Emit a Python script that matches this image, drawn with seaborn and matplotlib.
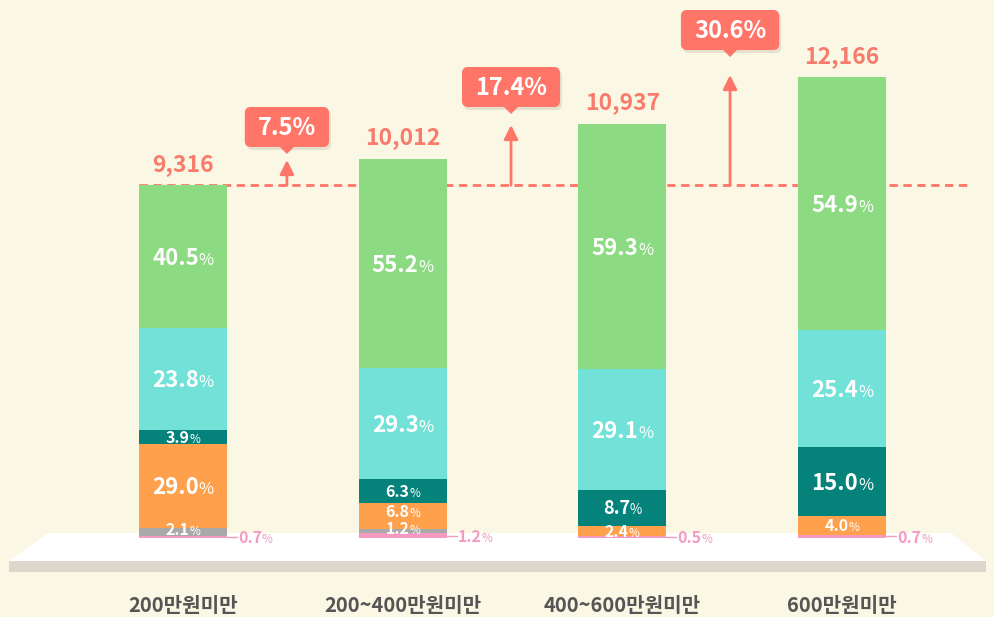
import matplotlib
matplotlib.use("Agg")
import matplotlib.pyplot as plt
import matplotlib.transforms as mtransforms
from matplotlib.patches import Polygon, Rectangle, FancyBboxPatch
import pandas as pd
import seaborn as sns

# ---- data ----
categorias = ["200만원미만", "200~400만원미만", "400~600만원미만", "600만원미만"]
totais = [9316, 10012, 10937, 12166]

# shares (%) as printed, from bottom to top of each bar
seg_rosa = [0.7, 1.2, 0.5, 0.7]
seg_cinza = [2.1, 1.2, 0.0, 0.0]
seg_laranja = [29.0, 6.8, 2.4, 4.0]
seg_petroleo = [3.9, 6.3, 8.7, 15.0]
seg_ciano = [23.8, 29.3, 29.1, 25.4]
seg_verde = [40.5, 55.2, 59.3, 54.9]

# drawn heights (%) where the source picture differs from the printed share:
# in the first bar the orange and cyan blocks are drawn with swapped sizes
alt_laranja = [23.8, 6.8, 2.4, 4.0]
alt_ciano = [29.0, 29.3, 29.1, 25.4]

rotulos = [seg_rosa, seg_cinza, seg_laranja, seg_petroleo, seg_ciano, seg_verde]
alturas = [seg_rosa, seg_cinza, alt_laranja, seg_petroleo, alt_ciano, seg_verde]
cores = ["#F59BC1", "#A9A9A9", "#FFA04C", "#05827A", "#72E1D8", "#8CDA82"]

FUNDO = "#FBF7E5"
CORAL = "#FF7568"
CORAL_TXT = "#F87B6C"

# ---- layout (pixels of the 994x617 image) ----
W, H = 994, 617
BASE_PX = 538       # bar baseline
SCALE = 0.03786     # px per unit
X0_PX = 183         # centre of first bar
STEP_PX = 219.7     # distance between bars
LARG = 0.40         # bar width (category units)

def y_px(p):
    return (BASE_PX - p) / SCALE

sns.set_style("white")
plt.rcParams["font.family"] = ["Noto Sans CJK KR", "DejaVu Sans"]

fig = plt.figure(figsize=(W / 100, H / 100), dpi=100)
fig.patch.set_facecolor(FUNDO)
ax = fig.add_axes([0, 0, 1, 1])
ax.set_facecolor(FUNDO)
T = mtransforms.Affine2D().scale(1, -1).translate(0, H)  # image pixel coords

# platform
ax.add_patch(Polygon([(48, 533), (951, 533), (986, 561), (9, 561)],
                     closed=True, transform=T, fc="white", ec="none", zorder=0.2))
ax.add_patch(Rectangle((9, 561), 977, 11, transform=T, fc="#DCD7CD", ec="none", zorder=0.2))

# stacked bars: draw cumulative heights from the top segment down
cum = []
acc = [0.0] * len(totais)
for seg in alturas:
    acc = [a + s for a, s in zip(acc, seg)]
    cum.append([a * t / 100 for a, t in zip(acc, totais)])

for k in range(len(alturas) - 1, -1, -1):
    df = pd.DataFrame({"faixa": categorias, "valor": cum[k]})
    sns.barplot(data=df, x="faixa", y="valor", color=cores[k], saturation=1,
                width=LARG, errorbar=None, linewidth=0, zorder=2, ax=ax)

ax.set_xlim(-X0_PX / STEP_PX, (W - X0_PX) / STEP_PX)
ax.set_ylim((BASE_PX - H) / SCALE, BASE_PX / SCALE)
ax.axis("off")

renderer = fig.canvas.get_renderer()

def pct_label(x, y, val, size, color, anchor="center", shift=0):
    num = ax.text(x, y, f"{val:.1f}", fontsize=size, fontweight="bold",
                  color=color, ha="left", va="baseline", zorder=4)
    sym = ax.text(x, y, "%", fontsize=size * 0.74, fontweight="medium",
                  color=color, ha="left", va="baseline", zorder=4)
    w1 = num.get_window_extent(renderer).width
    w2 = sym.get_window_extent(renderer).width
    dx = -(w1 + w2) / 2 if anchor == "center" else 0
    dy = -size * 0.36 * 100 / 72 + shift
    num.set_transform(ax.transData + mtransforms.Affine2D().translate(dx, dy))
    sym.set_transform(ax.transData + mtransforms.Affine2D().translate(dx + w1, dy))

# segment labels
for i, t in enumerate(totais):
    base = 0.0
    for k in range(len(alturas)):
        v = rotulos[k][i]
        h = alturas[k][i] * t / 100
        if v > 0:
            mid = base + h / 2
            if k == 0:
                x1 = i + LARG / 2
                x2 = x1 + 10 / STEP_PX
                ax.plot([x1, x2], [mid, mid], color=cores[0], lw=1, zorder=3)
                pct_label(x2 + 1 / STEP_PX, mid, v, 11.5, cores[0], anchor="left", shift=-0.5)
            else:
                hp = h * SCALE
                size = 16 if hp >= 60 else (13 if hp >= 30 else 11.5)
                shift = 0
                if k == 2 and hp < 30 and seg_cinza[i] > 0:
                    shift = 5   # keep clear of the grey label below
                elif k == 1:
                    shift = 2.5
                pct_label(i, mid, v, size, "white", shift=shift)
        base += h
    ax.annotate(f"{t:,}", (i, t), xytext=(0, 7), textcoords="offset points",
                ha="center", va="bottom", fontsize=16.5, fontweight="bold",
                color=CORAL_TXT, zorder=4)

# reference line at the first total
ax.plot([-LARG / 2, (972 - X0_PX) / STEP_PX], [totais[0], totais[0]],
        color=CORAL, lw=2, dashes=(3, 2), zorder=0.8)

# growth callouts
seta_x = [0.473, 1.493, 2.49]
seta_topo_px = [160, 125, 75]
caixa_y_px = [127, 87, 30]
for j in range(3):
    g = (totais[j + 1] / totais[0] - 1) * 100
    xd = seta_x[j]
    ax.annotate("", xy=(xd, y_px(seta_topo_px[j])), xytext=(xd, totais[0]),
                arrowprops=dict(arrowstyle="-|>,head_length=0.6,head_width=0.3",
                                color=CORAL, lw=2, shrinkA=0, shrinkB=0,
                                mutation_scale=14), zorder=3)
    cx = X0_PX + STEP_PX * xd
    cy = caixa_y_px[j]
    txt = ax.text(cx, cy + 1, f"{g:.1f}%", transform=T, ha="center", va="center",
                  fontsize=17, fontweight="bold", color="white", zorder=6)
    wt = txt.get_window_extent(renderer).width
    bw, bh = wt + 26, 40
    ax.add_patch(FancyBboxPatch((cx - bw / 2 + 2, cy - bh / 2 + 3), bw, bh,
                                boxstyle="round,pad=0,rounding_size=6", transform=T,
                                fc="#8A7F70", ec="none", alpha=0.18, zorder=4.8))
    ax.add_patch(FancyBboxPatch((cx - bw / 2, cy - bh / 2), bw, bh,
                                boxstyle="round,pad=0,rounding_size=6", transform=T,
                                fc=CORAL, ec="none", zorder=5))
    ax.add_patch(Polygon([(cx - 8, cy + bh / 2 - 1), (cx + 8, cy + bh / 2 - 1),
                          (cx, cy + bh / 2 + 7)], closed=True, transform=T,
                         fc=CORAL, ec="none", zorder=5))

# category labels
for i, c in enumerate(categorias):
    ax.text(i, y_px(605), c, ha="center", va="center", fontsize=14.5,
            fontweight="bold", color="#555555", zorder=4)

fig.savefig("out.png", dpi=100, facecolor=FUNDO)
